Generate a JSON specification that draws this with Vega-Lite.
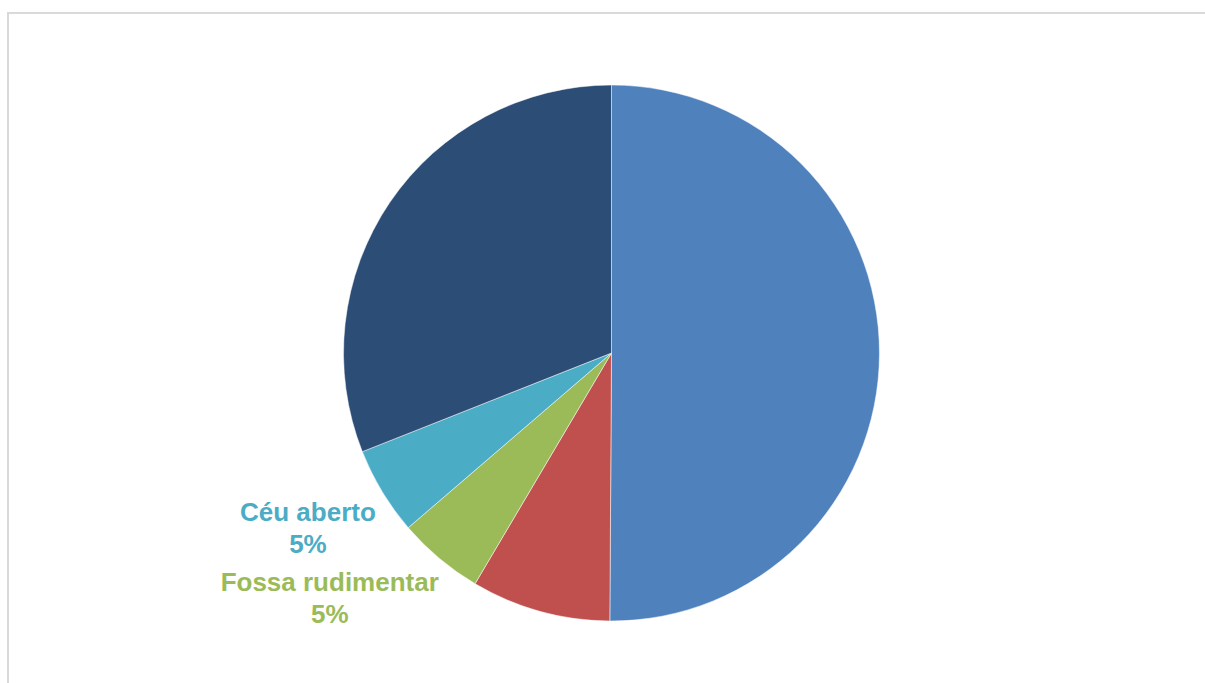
{
  "$schema": "https://vega.github.io/schema/vega-lite/v6.json",
  "autosize": {"type": "none"},
  "padding": {"left": 8, "top": 13, "right": -10, "bottom": -10},
  "width": 1207,
  "height": 680,
  "background": "#ffffff",
  "view": {"stroke": "#d9d9d9", "strokeWidth": 2, "fill": "#ffffff"},
  "data": {
    "values": [
      {"cat": "Rede geral", "pct": 50.1, "ord": 1, "label": ""},
      {"cat": "Vala", "pct": 8.4, "ord": 2, "label": ""},
      {"cat": "Fossa rudimentar", "pct": 5.2, "ord": 3, "label": "Fossa rudimentar\n5%"},
      {"cat": "Céu aberto", "pct": 5.3, "ord": 4, "label": "Céu aberto\n5%"},
      {"cat": "Fossa séptica", "pct": 31.0, "ord": 5, "label": ""}
    ]
  },
  "encoding": {
    "theta": {"field": "pct", "type": "quantitative", "stack": true},
    "order": {"field": "ord", "type": "quantitative"},
    "color": {
      "field": "cat",
      "type": "nominal",
      "legend": null,
      "scale": {
        "domain": ["Rede geral", "Vala", "Fossa rudimentar", "Céu aberto", "Fossa séptica"],
        "range": ["#4F81BD", "#C0504D", "#9BBB59", "#4BACC6", "#2C4D75"]
      }
    }
  },
  "layer": [
    {"mark": {"type": "arc", "radius": 268, "stroke": "#ffffff", "strokeWidth": 0.5}},
    {
      "mark": {"type": "text", "radius": 350, "dx": -4, "dy": -21, "font": "Liberation Sans", "fontSize": 26, "fontWeight": "bold", "lineBreak": "\n", "lineHeight": 32, "align": "center", "baseline": "middle"},
      "encoding": {
        "text": {"condition": {"test": "datum.cat === 'Céu aberto'", "field": "label"}, "value": ""}
      }
    },
    {
      "mark": {"type": "text", "radius": 350, "dx": -57, "dy": -38, "font": "Liberation Sans", "fontSize": 26, "fontWeight": "bold", "lineBreak": "\n", "lineHeight": 32, "align": "center", "baseline": "middle"},
      "encoding": {
        "text": {"condition": {"test": "datum.cat === 'Fossa rudimentar'", "field": "label"}, "value": ""}
      }
    }
  ]
}
